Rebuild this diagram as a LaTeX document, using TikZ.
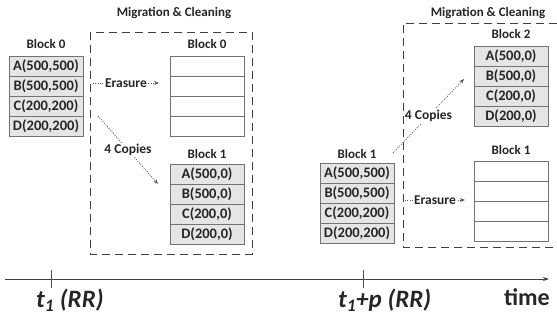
\documentclass[tikz,border=0pt]{standalone}
\usepackage{fontspec}
\setmainfont{Carlito}
\usetikzlibrary{arrows.meta}

\begin{document}
\begin{tikzpicture}[x=1pt,y=-1pt,
  cell/.style={draw=black!55, line width=0.9pt, fill=black!10,
    minimum width=74pt, minimum height=20pt, inner sep=0pt,
    font=\fontsize{14.5}{16}\selectfont\bfseries, text=black!85},
  blank/.style={cell, fill=white},
  blocklabel/.style={font=\fontsize{13}{15}\selectfont\bfseries, text=black!85},
  region/.style={draw=black!75, line width=1pt, dash pattern=on 8pt off 5pt},
  flow/.style={draw=black!65, line width=0.8pt, dash pattern=on 1pt off 1.3pt,
    -{Stealth[length=5pt,width=4pt]}},
  note/.style={fill=white, inner sep=1pt,
    font=\fontsize{13.5}{15}\selectfont\bfseries, text=black!85},
  timelabel/.style={font=\fontsize{25}{28}\selectfont\bfseries\itshape, text=black!85}
]

  \useasboundingbox (0,0) rectangle (557,327);

  % --- first clean-up (t_1) ---
  \node[blocklabel] (mc0) at (174,13) {Migration \& Cleaning};
  \draw[region] (90,32) rectangle (252,254);

  % Block 0 before migration
  \node[blocklabel] (lbl-b0) at (46,44) {Block 0};
  \foreach \txt [count=\i] in {{A(500,500)},{B(500,500)},{C(200,200)},{D(200,200)}}
    \node[cell] (b0-\i) at (46,{46+20*\i}) {\txt};

  % Block 0 after erasure
  \node[blocklabel] (lbl-e0) at (207,44) {Block 0};
  \foreach \i in {1,...,4}
    \node[blank] (e0-\i) at (207,{46+20*\i}) {};

  % Block 1 holds the copies
  \node[blocklabel] (lbl-b1) at (207,154) {Block 1};
  \foreach \txt [count=\i] in {{A(500,0)},{B(500,0)},{C(200,0)},{D(200,0)}}
    \node[cell] (c1-\i) at (207,{154+20*\i}) {\txt};

  % arrows of the first round
  \coordinate (er0s) at (93,83);
  \coordinate (er0e) at (159,83);
  \draw[flow] (er0s) -- node[note] {Erasure} (er0e);
  \coordinate (cp0s) at (98,116);
  \coordinate (cp0e) at (158,184);
  \draw[flow] (cp0s) -- node[note] {4 Copies} (cp0e);

  % --- second clean-up (t_1+p) ---
  \node[blocklabel] (mc1) at (488,13) {Migration \& Cleaning};
  \draw[region] (557,23) -- (403,23) -- (403,247) -- (557,247);

  % Block 1 before migration
  \node[blocklabel] (lbl-b1b) at (357,154) {Block 1};
  \foreach \txt [count=\i] in {{A(500,500)},{B(500,500)},{C(200,200)},{D(200,200)}}
    \node[cell] (b1-\i) at (357,{153+20*\i}) {\txt};

  % Block 2 holds the copies
  \node[blocklabel] (lbl-b2) at (511,34) {Block 2};
  \foreach \txt [count=\i] in {{A(500,0)},{B(500,0)},{C(200,0)},{D(200,0)}}
    \node[cell] (c2-\i) at (511,{36+20*\i}) {\txt};

  % Block 1 after erasure
  \node[blocklabel] (lbl-e1) at (511,150) {Block 1};
  \foreach \i in {1,...,4}
    \node[blank] (e1-\i) at (511,{151+20*\i}) {};

  % arrows of the second round
  \coordinate (cp1s) at (393,153);
  \coordinate (cp1e) at (464,79);
  \draw[flow] (cp1s) -- node[note] {4 Copies} (cp1e);
  \coordinate (er1s) at (405,200);
  \coordinate (er1e) at (465,200);
  \draw[flow] (er1s) -- node[note] {Erasure} (er1e);

  % --- time axis ---
  \coordinate (t0) at (5,279);
  \coordinate (tend) at (549,279);
  \draw[draw=black!75, line width=1pt, -{Stealth[length=6pt,width=4pt]}] (t0) -- (tend);
  \coordinate (tick1) at (51,279);
  \coordinate (tick2) at (363,279);
  \foreach \t in {tick1,tick2}
    \draw[draw=black!70, line width=0.9pt] ([yshift=-9pt]\t) -- ([yshift=9pt]\t);

  \node[timelabel, anchor=north west, inner sep=0pt] (lbl-t1) at (36,289) {t\textsubscript{1} (RR)};
  \node[timelabel, anchor=north west, inner sep=0pt] (lbl-t2) at (338,289) {t\textsubscript{1}+p (RR)};
  \node[font=\fontsize{24}{28}\selectfont\bfseries, text=black!85] (lbl-time) at (527,297) {time};

\end{tikzpicture}
\end{document}
